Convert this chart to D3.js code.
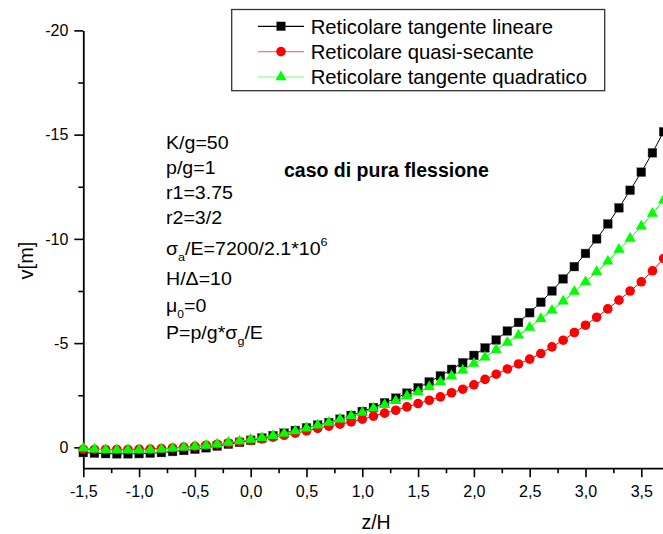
<!DOCTYPE html>
<html>
<head>
<meta charset="utf-8">
<script src="https://cdn.jsdelivr.net/npm/d3@7"></script>
<style>
  body { margin: 0; background: #fff; }
  svg { display: block; font-family: "Liberation Sans", Arial, sans-serif; }
</style>
</head>
<body>
<div id="chart"></div>
<script>
// z/H sampled every 0.1
const zH = [-1.5,-1.4,-1.3,-1.2,-1.1,-1.0,-0.9,-0.8,-0.7,-0.6,-0.5,-0.4,-0.3,-0.2,-0.1,0.0,
  0.1,0.2,0.3,0.4,0.5,0.6,0.7,0.8,0.9,1.0,1.1,1.2,1.3,1.4,1.5,1.6,1.7,1.8,1.9,2.0,
  2.1,2.2,2.3,2.4,2.5,2.6,2.7,2.8,2.9,3.0,3.1,3.2,3.3,3.4,3.5,3.6,3.7];

const tangenteLineare = [0.25,0.28,0.30,0.31,0.31,0.30,0.28,0.25,0.20,0.15,0.09,0.02,-0.06,-0.15,-0.24,-0.34,
  -0.45,-0.56,-0.68,-0.81,-0.94,-1.07,-1.19,-1.35,-1.53,-1.72,-1.91,-2.14,-2.36,-2.60,-2.86,-3.14,-3.43,-3.74,-4.06,-4.41,
  -4.77,-5.15,-5.58,-5.99,-6.46,-6.96,-7.50,-8.08,-8.67,-9.30,-10.00,-10.72,-11.49,-12.33,-13.20,-14.13,-15.14];

const quasiSecante = [0.09,0.10,0.10,0.10,0.10,0.09,0.08,0.06,0.03,-0.01,-0.05,-0.10,-0.15,-0.21,-0.27,-0.34,
  -0.41,-0.49,-0.58,-0.68,-0.79,-0.91,-1.02,-1.11,-1.22,-1.35,-1.50,-1.64,-1.78,-1.94,-2.10,-2.26,-2.42,-2.62,-2.79,-3.00,
  -3.26,-3.51,-3.76,-4.00,-4.23,-4.50,-4.82,-5.14,-5.51,-5.86,-6.24,-6.64,-7.06,-7.50,-7.94,-8.47,-9.06];

const tangenteQuadratico = [0.05,0.09,0.12,0.13,0.13,0.13,0.12,0.09,0.05,0.00,-0.04,-0.09,-0.15,-0.23,-0.30,-0.38,
  -0.46,-0.56,-0.66,-0.78,-0.92,-1.06,-1.19,-1.35,-1.51,-1.67,-1.87,-2.04,-2.23,-2.46,-2.66,-2.90,-3.14,-3.42,-3.70,-4.02,
  -4.32,-4.68,-5.03,-5.38,-5.75,-6.17,-6.57,-7.01,-7.47,-7.94,-8.42,-8.92,-9.49,-10.02,-10.61,-11.22,-11.86];

const seriesNames = ["Reticolare tangente lineare", "Reticolare quasi-secante", "Reticolare tangente quadratico"];
const xTicks = [-1.5,-1.0,-0.5,0.0,0.5,1.0,1.5,2.0,2.5,3.0,3.5];
const xMinor = [-1.25,-0.75,-0.25,0.25,0.75,1.25,1.75,2.25,2.75,3.25,3.75];
const yTicks = [-20,-15,-10,-5,0];
const yMinor = [-17.5,-12.5,-7.5,-2.5];

const W = 663, H = 534;
const svg = d3.select("#chart").append("svg")
  .attr("width", W).attr("height", H);

const x = d3.scaleLinear().domain([-1.5, 3.7]).range([83.3, 663.6]);
const y = d3.scaleLinear().domain([1, -20]).range([468.2, 30.4]);

const fmtX = d => d3.format(".1f")(d).replace("\u2212", "-").replace(".", ",");
const fmtY = d => String(d);

// axes
svg.append("g").attr("transform", `translate(0,${y(1)})`)
  .call(d3.axisBottom(x).tickValues(xTicks).tickFormat(fmtX)
    .tickSize(9).tickSizeOuter(0).tickPadding(8));
svg.append("g").attr("transform", `translate(0,${y(1)})`)
  .call(d3.axisBottom(x).tickValues(xMinor).tickFormat("").tickSize(5).tickSizeOuter(0))
  .select(".domain").remove();

svg.append("g").attr("transform", `translate(${x(-1.5)},0)`)
  .call(d3.axisLeft(y).tickValues(yTicks).tickFormat(fmtY)
    .tickSize(9).tickSizeOuter(0).tickPadding(6));
svg.append("g").attr("transform", `translate(${x(-1.5)},0)`)
  .call(d3.axisLeft(y).tickValues(yMinor).tickFormat("").tickSize(5).tickSizeOuter(0))
  .select(".domain").remove();

svg.selectAll(".domain").attr("stroke", "#000").attr("stroke-width", 1.8);
svg.selectAll(".tick line").attr("stroke", "#000").attr("stroke-width", 1.6);
svg.selectAll(".tick text").attr("fill", "#000")
  .style("font-family", '"Liberation Sans", Arial, sans-serif').style("font-size", "16px");

// axis titles
svg.append("text").attr("x", 376).attr("y", 529).attr("text-anchor", "middle")
  .style("font-size", "19.5px").text("z/H");
svg.append("text").attr("transform", "translate(33,260.5) rotate(-90)")
  .attr("text-anchor", "middle").style("font-size", "20px").text("v[m]");

// series
const series = [
  { name: seriesNames[0], values: tangenteLineare, color: "#000000", shape: "square" },
  { name: seriesNames[1], values: quasiSecante, color: "#ff0000", shape: "circle" },
  { name: seriesNames[2], values: tangenteQuadratico, color: "#00ff00", shape: "triangle" }
];

const line = d3.line().x(d => x(d[0])).y(d => y(d[1]));
const tri = d3.symbol(d3.symbolTriangle, 54);

function drawMarker(sel, s) {
  if (s.shape === "square") {
    sel.append("rect").attr("x", -4.4).attr("y", -4.4).attr("width", 8.8).attr("height", 8.8)
      .attr("fill", s.color).attr("stroke", "#555").attr("stroke-width", 0.4);
  } else if (s.shape === "circle") {
    sel.append("circle").attr("r", 4.8).attr("fill", s.color);
  } else {
    sel.append("path").attr("d", tri()).attr("fill", s.color);
  }
}

series.forEach(s => {
  const pts = zH.map((z, i) => [z, s.values[i]]);
  svg.append("path").datum(pts)
    .attr("fill", "none").attr("stroke", s.color).attr("stroke-width", 1).attr("d", line);
  svg.append("g").selectAll("g").data(pts).join("g")
    .attr("transform", d => `translate(${x(d[0])},${y(d[1])})`)
    .each(function () { drawMarker(d3.select(this), s); });
});

// legend
const legend = svg.append("g");
legend.append("rect").attr("x", 231.7).attr("y", 9.5).attr("width", 373).attr("height", 81.2)
  .attr("fill", "#fff").attr("stroke", "#333").attr("stroke-width", 1.3);
const rowY = [26.3, 51.6, 77];
series.forEach((s, i) => {
  const g = legend.append("g").attr("transform", `translate(0,${rowY[i]})`);
  g.append("line").attr("x1", 258).attr("x2", 304).attr("stroke", s.color)
    .attr("stroke-opacity", s.shape === "square" ? 1 : 0.55).attr("stroke-width", 1.2);
  const m = g.append("g").attr("transform", "translate(281,0)");
  drawMarker(m, s);
  g.append("text").attr("x", 310.7).attr("y", 7.2).style("font-size", "20.3px").text(s.name);
});

// annotations
const notes = svg.append("g").style("font-size", "17.8px");
function note(yb) {
  return notes.append("text").attr("transform", `translate(166,${yb}) scale(1.1,1)`);
}
note(149).text("K/g=50");
note(174).text("p/g=1");
note(199).text("r1=3.75");
note(223.5).text("r2=3/2");
const s1 = note(255);
s1.append("tspan").text("\u03c3");
s1.append("tspan").attr("dy", 6).style("font-size", "11.5px").text("a");
s1.append("tspan").attr("dy", -6).text("/E=7200/2.1*10");
s1.append("tspan").attr("dy", -9).style("font-size", "11.5px").text("6");
note(285).text("H/\u0394=10");
const s2 = note(311.5);
s2.append("tspan").text("\u03bc");
s2.append("tspan").attr("dy", 6).style("font-size", "11px").text("0");
s2.append("tspan").attr("dy", -6).text("=0");
const s3 = note(339);
s3.append("tspan").text("P=p/g*\u03c3");
s3.append("tspan").attr("dy", 6).style("font-size", "11.5px").text("g");
s3.append("tspan").attr("dy", -6).text("/E");

svg.append("text").attr("x", 284).attr("y", 177).style("font-size", "19.5px")
  .style("font-weight", "bold").text("caso di pura flessione");
</script>
</body>
</html>
